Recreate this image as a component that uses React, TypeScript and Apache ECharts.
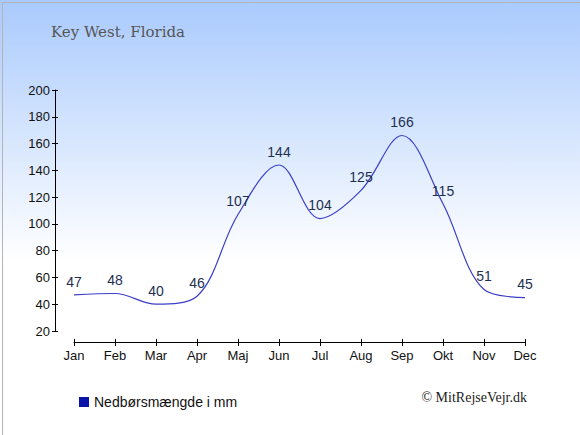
import React, { useEffect, useRef } from "react";
import * as echarts from "echarts";

const months = ["Jan", "Feb", "Mar", "Apr", "Maj", "Jun", "Jul", "Aug", "Sep", "Okt", "Nov", "Dec"];
const rainfall = [47, 48, 40, 46, 107, 144, 104, 125, 166, 115, 51, 45];
const yTicks = { min: 20, max: 200, interval: 20 };
const titleText = "Key West, Florida";
const seriesName = "Nedbørsmængde i mm";
const creditText = "© MitRejseVejr.dk";

const sans = "Liberation Sans, Arial, sans-serif";

export default function App() {
  const ref = useRef<HTMLDivElement>(null);
  useEffect(() => {
    if (!ref.current) return;
    const chart = echarts.init(ref.current, null, { renderer: "svg" });
    chart.setOption({
      animation: false,
      backgroundColor: new echarts.graphic.LinearGradient(0, 0, 0, 1, [
        { offset: 0, color: "#a9cafd" },
        { offset: 0.6, color: "#ffffff" },
        { offset: 1, color: "#ffffff" },
      ]),
      title: {
        text: titleText,
        left: 46,
        top: 19,
        textStyle: { fontFamily: "DejaVu Serif, Liberation Serif, serif", fontWeight: "normal", fontSize: 15, color: "#555555" },
      },
      legend: {
        left: 74,
        top: 390,
        icon: "rect",
        itemWidth: 10,
        itemHeight: 10,
        itemGap: 5,
        data: [{ name: seriesName, itemStyle: { color: "#0a14a8" } }],
        textStyle: { fontFamily: sans, fontSize: 14, color: "#111111" },
      },
      grid: { left: 74, right: 55, top: 90, bottom: 104, containLabel: false },
      xAxis: [
        {
          type: "category",
          data: months,
          boundaryGap: false,
          offset: 11,
          axisLine: { lineStyle: { color: "#000", width: 1 } },
          axisTick: { alignWithLabel: true, length: 4, lineStyle: { color: "#000" } },
          axisLabel: { color: "#111", fontSize: 13, fontFamily: sans, margin: 7 },
          splitLine: { show: false },
        },
        {
          type: "category",
          data: months,
          boundaryGap: false,
          position: "bottom",
          offset: 11,
          axisLine: { show: false },
          axisTick: { show: true, inside: true, length: 3, lineStyle: { color: "#000" } },
          axisLabel: { show: false },
          splitLine: { show: false },
        },
      ],
      yAxis: [
        {
          type: "value",
          min: yTicks.min,
          max: yTicks.max,
          interval: yTicks.interval,
          offset: 19,
          axisLine: { show: true, lineStyle: { color: "#000", width: 1 } },
          axisTick: { show: true, length: 3, lineStyle: { color: "#000" } },
          axisLabel: { color: "#111", fontSize: 13, fontFamily: sans, margin: 5 },
          splitLine: { show: false },
        },
        {
          type: "value",
          min: yTicks.min,
          max: yTicks.max,
          interval: yTicks.interval,
          position: "left",
          offset: 19,
          axisLine: { show: false },
          axisTick: { show: true, inside: true, length: 3, lineStyle: { color: "#000" } },
          axisLabel: { show: false },
          splitLine: { show: false },
        },
      ],
      series: [
        {
          name: seriesName,
          type: "line",
          data: rainfall,
          smooth: 0.35,
          showSymbol: true,
          symbol: "circle",
          symbolSize: 0.1,
          lineStyle: { color: "#3b3fc8", width: 1.2 },
          itemStyle: { color: "#0a14a8" },
          label: {
            show: true,
            position: "top",
            distance: 6,
            color: "#1e3050",
            fontSize: 14,
            fontFamily: sans,
          },
        },
      ],
      graphic: [
        {
          type: "text",
          right: 53,
          top: 390,
          style: { text: creditText, font: "14px 'Liberation Serif', 'Times New Roman', serif", fill: "#222" },
        },
        {
          type: "rect",
          left: 0,
          top: 0,
          shape: { x: 0.5, y: 0.5, width: 579, height: 434 },
          style: { fill: "none", stroke: "#b4b4b4", lineWidth: 1 },
          silent: true,
        },
      ],
    });
    return () => chart.dispose();
  }, []);
  return <div ref={ref} style={{ position: "fixed", left: 0, top: 0, width: 580, height: 435 }} />;
}
